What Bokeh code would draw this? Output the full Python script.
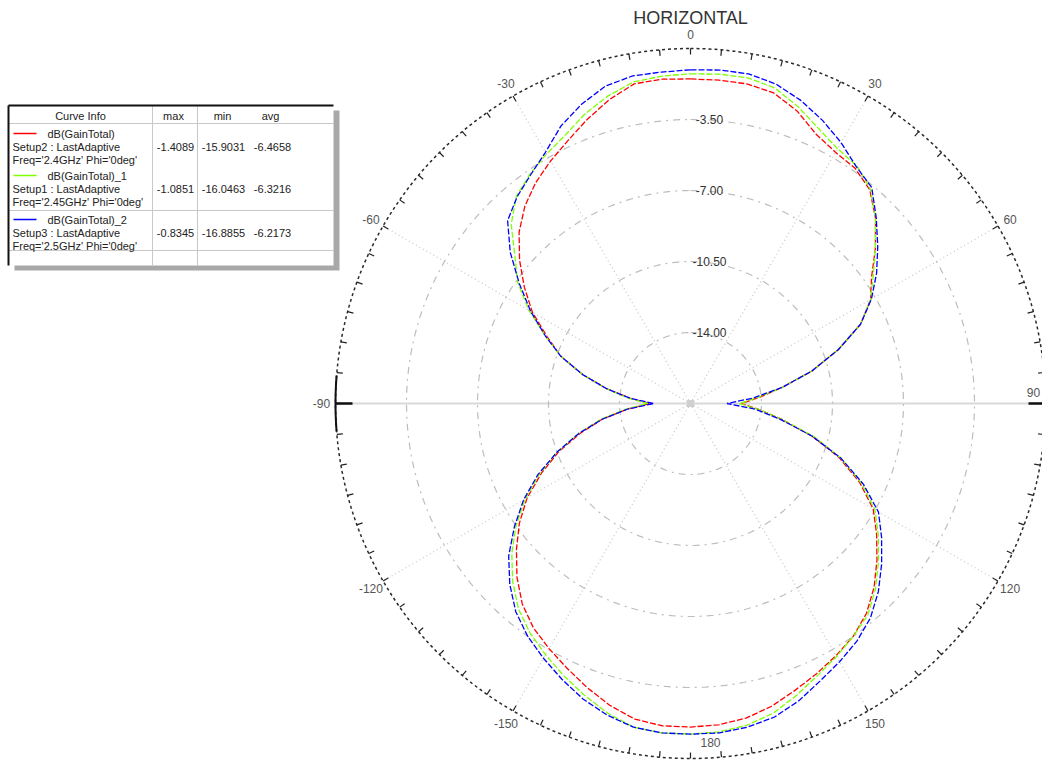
import numpy as np
from bokeh.plotting import figure
from bokeh.models import Range1d
from bokeh.embed import file_html
from bokeh.resources import INLINE
from bokeh.core.properties import value

# ---------------- data (dB, angle measured clockwise from top, 5 deg steps) -------------
angles_deg = list(range(0, 360, 5))

red_db = [-1.5, -1.5, -1.5, -1.65, -2.15, -2.85, -3.2, -3.35, -3.75, -4.6, -5.6, -6.6,
          -7.25, -8.25, -9.75, -11.3, -12.9, -14.1, -15.0, -14.1, -12.9, -11.3, -9.7, -8.3,
          -7.1, -6.3, -5.5, -4.7, -4.0, -3.5, -3.15, -2.8, -2.45, -2.05, -1.75, -1.6,
          -1.55, -1.55, -1.7, -2.1, -2.6, -3.1, -3.55, -4.0, -4.6, -5.4, -6.3, -7.2,
          -8.2, -9.4, -10.6, -11.9, -13.1, -14.4, -15.5, -14.5, -13.3, -12.0, -10.7, -9.7,
          -8.5, -7.5, -6.5, -5.55, -4.8, -4.2, -3.7, -3.2, -2.6, -2.0, -1.5, -1.45]

green_db = [-1.25, -1.2, -1.2, -1.4, -1.95, -2.55, -3.0, -3.2, -3.7, -4.6, -5.6, -6.5,
            -7.25, -8.25, -9.75, -11.3, -12.9, -14.2, -15.1, -14.1, -12.9, -11.2, -9.6, -8.2,
            -7.0, -6.2, -5.4, -4.6, -3.9, -3.5, -3.1, -2.7, -2.2, -1.7, -1.4, -1.25,
            -1.2, -1.2, -1.3, -1.7, -2.2, -2.7, -3.2, -3.7, -4.3, -5.1, -6.0, -7.0,
            -8.1, -9.3, -10.5, -11.8, -13.0, -14.3, -15.4, -14.4, -13.3, -12.0, -10.7, -9.6,
            -8.3, -7.1, -6.2, -5.0, -4.15, -3.7, -3.3, -2.9, -2.3, -1.8, -1.4, -1.3]

blue_db = [-1.05, -1.0, -1.0, -1.2, -1.6, -2.1, -2.65, -3.25, -3.6, -4.55, -5.45, -6.3,
           -7.2, -8.25, -9.75, -11.3, -12.9, -14.4, -15.7, -14.3, -13.0, -11.3, -9.6, -8.1,
           -6.8, -6.0, -5.2, -4.4, -3.7, -3.2, -2.8, -2.4, -1.9, -1.5, -1.3, -1.2,
           -1.2, -1.2, -1.3, -1.6, -2.0, -2.5, -3.0, -3.5, -4.1, -4.9, -5.8, -6.9,
           -8.0, -9.2, -10.5, -11.8, -13.1, -14.4, -15.7, -14.5, -13.3, -12.0, -10.7, -9.6,
           -8.4, -7.2, -5.9, -4.75, -4.2, -3.75, -3.2, -2.4, -1.8, -1.3, -1.1, -1.1]

ring_values = [-3.5, -7.0, -10.5, -14.0]
ring_labels = ["-3.50", "-7.00", "-10.50", "-14.00"]
r_min, r_max = -17.5, 0.0

label_angles = [0, 30, 60, 90, 120, 150, 180, 210, 240, 270, 300, 330]
label_texts = ["0", "30", "60", "90", "120", "150", "180", "-150", "-120", "-90", "-60", "-30"]
spoke_angles = [30, 60, 120, 150, 210, 240, 300, 330]

series_names = ["dB(GainTotal)", "dB(GainTotal)_1", "dB(GainTotal)_2"]
series_setups = ["Setup2 : LastAdaptive", "Setup1 : LastAdaptive", "Setup3 : LastAdaptive"]
series_freqs = ["Freq='2.4GHz' Phi='0deg'", "Freq='2.45GHz' Phi='0deg'", "Freq='2.5GHz' Phi='0deg'"]
series_max = ["-1.4089", "-1.0851", "-0.8345"]
series_min = ["-15.9031", "-16.0463", "-16.8855"]
series_avg = ["-6.4658", "-6.3216", "-6.2173"]
series_colors = ["#ff0000", "#7fff00", "#0000ff"]
series_values = [red_db, green_db, blue_db]

# ---------------- geometry ----------------
W, H = 1042, 763
CX, CY = 690.0, 403.0
R_OUT = 355.0
K = R_OUT / (r_max - r_min)
FONT = value("Liberation Sans")


def polar(theta_deg, rad_px):
    t = np.radians(np.asarray(theta_deg, dtype=float))
    return CX + rad_px * np.sin(t), CY - rad_px * np.cos(t)


p = figure(width=W, height=H, x_range=Range1d(0, W), y_range=Range1d(H, 0),
           x_axis_type=None, y_axis_type=None, toolbar_location=None,
           output_backend="svg", min_border=0, outline_line_color=None,
           background_fill_color="white", border_fill_color="white")
p.xgrid.visible = False
p.ygrid.visible = False

# horizontal axis line (-90 .. 90)
p.line([CX - R_OUT, CX + R_OUT], [CY, CY], line_color="#d9d9d9", line_width=2)

# spokes
for a in spoke_angles:
    x1, y1 = polar(a, R_OUT)
    p.line([CX, float(x1)], [CY, float(y1)], line_color="#c4c4c4", line_width=1.2, line_dash="1 3")

# rings
circ = np.linspace(0, 360, 361)
for v in ring_values:
    xs, ys = polar(circ, (v - r_min) * K)
    p.line(xs, ys, line_color="#bdbdbd", line_width=1.2, line_dash="7 5 2 5")

# outer circle
xs, ys = polar(circ, R_OUT)
p.line(xs, ys, line_color="#2a2a2a", line_width=1.5, line_dash="3 3")
for a in [90, 270]:
    seg = np.linspace(a - 4.5, a + 4.5, 20)
    xs, ys = polar(seg, R_OUT)
    p.line(xs, ys, line_color="#111111", line_width=2)

# tick marks every 5 degrees
tick_a = np.arange(0, 360, 5)
x0, y0 = polar(tick_a, R_OUT)
x1, y1 = polar(tick_a, R_OUT - 6)
p.segment(x0, y0, x1, y1, line_color="#222222", line_width=1.2)
for a in [90, 270]:
    xa, ya = polar(a, R_OUT)
    xb, yb = polar(a, R_OUT - 17)
    p.segment([float(xa)], [float(ya)], [float(xb)], [float(yb)], line_color="#111111", line_width=2.5)

# angle labels (those that would fall off the page are pulled just inside it)
lx, ly = polar(label_angles, R_OUT + 14)
lx = np.array(lx)
ly = np.array(ly)
i90 = label_texts.index("90")
lx[i90], ly[i90] = CX + R_OUT - 12, CY - 11
i180 = label_texts.index("180")
lx[i180], ly[i180] = CX + 20, CY + R_OUT - 16
p.text(lx, ly, text=label_texts, text_font=FONT, text_font_size="12px", text_color="#555555",
       text_align="center", text_baseline="middle")

# ring labels
p.text([CX + 19] * len(ring_values), [CY - (v - r_min) * K for v in ring_values], text=ring_labels,
       text_font=FONT, text_font_size="12px", text_color="#333333",
       text_align="center", text_baseline="middle")

# center marker
p.rect([CX], [CY], width=7, height=7, fill_color="#d0d0d0", line_color=None)

# curves
for vals, col in zip(series_values, series_colors):
    a = angles_deg + [angles_deg[0]]
    v = np.array(vals + [vals[0]])
    xs, ys = polar(a, (v - r_min) * K)
    p.line(xs, ys, line_color=col, line_width=1.3, line_dash="6 2")

# title
p.text([CX], [17], text=["HORIZONTAL"], text_font=FONT, text_font_size="18px", text_color="#333333",
       text_align="center", text_baseline="middle")

# ---------------- legend table ----------------
TX0, TX1, TY0, TY1 = 8, 333, 105, 265
# shadow
p.quad(left=[TX0 + 6], right=[TX1 + 6], top=[TY0 + 5], bottom=[TY1 + 5], fill_color="#a8a8a8", line_color=None)
p.quad(left=[TX0], right=[TX1], top=[TY0], bottom=[TY1], fill_color="white", line_color=None)
# inner lines
p.segment([152, 197], [TY0, TY0], [152, 197], [TY1, TY1], line_color="#c8c8c8", line_width=1)
p.segment([TX0, TX0, TX0], [123, 210, 250], [TX1, TX1, TX1], [123, 210, 250], line_color="#c8c8c8", line_width=1)
# dark top/left border
p.segment([TX0, TX0], [TY0, TY0], [TX1, TX0], [TY0, TY1], line_color="#111111", line_width=2)

p.text([80, 173, 222, 270], [115, 115, 115, 115], text=["Curve Info", "max", "min", "avg"],
       text_font=FONT, text_font_size="11px", text_color="#222222",
       text_align="center", text_baseline="middle")

row_y = [133, 175, 219]
for i in range(3):
    y = row_y[i]
    p.line([13, 36], [y, y], line_color=series_colors[i], line_width=1.5)
    p.text([47], [y], text=[series_names[i]], text_font=FONT, text_font_size="11px",
           text_color="#222222", text_align="left", text_baseline="middle")
    p.text([12, 12], [y + 13, y + 26], text=[series_setups[i], series_freqs[i]], text_font=FONT,
           text_font_size="11px", text_color="#222222", text_align="left", text_baseline="middle")
    p.text([175, 223, 272], [y + 13] * 3, text=[series_max[i], series_min[i], series_avg[i]],
           text_font=FONT, text_font_size="11px", text_color="#222222",
           text_align="center", text_baseline="middle")

open("out.html", "w").write(file_html(p, INLINE))
